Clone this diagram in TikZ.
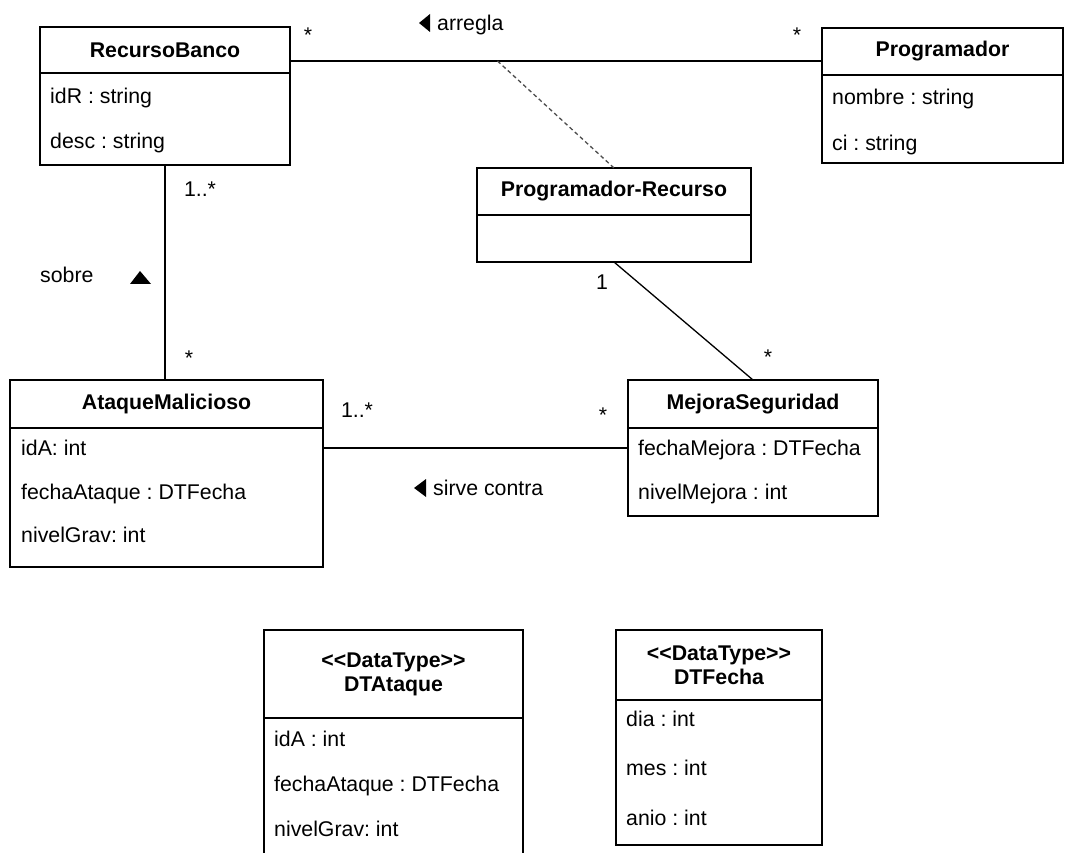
\documentclass[tikz,border=0pt]{standalone}
\usepackage{fontspec}
\setmainfont{Liberation Sans}
\usetikzlibrary{positioning}

\newcommand{\umlfont}{\fontsize{21.3pt}{24pt}\selectfont\frenchspacing}

\tikzset{
    classhead/.style={draw, line width=2.8pt, anchor=north west, inner sep=0pt, outer sep=0pt, font=\umlfont\bfseries, align=center},
    classbody/.style={draw, line width=2.8pt, inner sep=0pt, outer sep=0pt},
    attr/.style={anchor=west, inner sep=0pt, text height=15pt, text depth=4pt},
    mult/.style={anchor=base, inner sep=0pt},
    assoc/.style={line width=1.3pt},
    linkdash/.style={line width=1.3pt, dash pattern=on 4pt off 3pt, black!70},
}

\begin{document}
\begin{tikzpicture}[x=1pt, y=-1pt, font=\umlfont]

    \useasboundingbox (0,0) rectangle (1066,853);
    \clip (0,0) rectangle (1066,853);

    %% Classes

    % RecursoBanco
    \node[classhead, minimum width=250pt, minimum height=46pt] (rb) at (40,27) {RecursoBanco};
    \node[classbody, minimum width=250pt, minimum height=92pt, below=0pt of rb] (rbattr) {};
    \node[attr] (rbid) at (50,98) {idR : string};
    \node[attr] (rbdesc) at (50,143) {desc : string};

    % Programador
    \node[classhead, minimum width=241pt, minimum height=47pt] (prog) at (822,28) {Programador};
    \node[classbody, minimum width=241pt, minimum height=88pt, below=0pt of prog] (progattr) {};
    \node[attr] (prognombre) at (832,99) {nombre : string};
    \node[attr] (progci) at (832,145) {ci : string};

    % Programador-Recurso
    \node[classhead, minimum width=274pt, minimum height=47pt] (pr) at (477,168) {Programador-Recurso};
    \node[classbody, minimum width=274pt, minimum height=47pt, below=0pt of pr] (prattr) {};

    % MejoraSeguridad
    \node[classhead, minimum width=250pt, minimum height=48pt] (ms) at (628,380) {MejoraSeguridad};
    \node[classbody, minimum width=250pt, minimum height=88pt, below=0pt of ms] (msattr) {};
    \node[attr] (msfecha) at (638,450) {fechaMejora : DTFecha};
    \node[attr] (msnivel) at (638,494) {nivelMejora : int};

    % AtaqueMalicioso
    \node[classhead, minimum width=313pt, minimum height=48pt] (am) at (10,380) {AtaqueMalicioso};
    \node[classbody, minimum width=313pt, minimum height=139pt, below=0pt of am] (amattr) {};
    \node[attr] (amid) at (21,450) {idA: int};
    \node[attr] (amfecha) at (21,494) {fechaAtaque : DTFecha};
    \node[attr] (amnivel) at (21,537) {nivelGrav: int};

    % DTAtaque
    \node[classhead, minimum width=259pt, minimum height=88pt] (dta) at (264,630) {<\kern0pt<DataType>\kern0pt>\\DTAtaque};
    \node[classbody, minimum width=259pt, minimum height=190pt, below=0pt of dta] (dtaattr) {};
    \node[attr] (dtaid) at (274,741) {idA : int};
    \node[attr] (dtafecha) at (274,786) {fechaAtaque : DTFecha};
    \node[attr] (dtanivel) at (274,831) {nivelGrav: int};

    % DTFecha
    \node[classhead, minimum width=206pt, minimum height=70pt] (dtf) at (616,630) {<\kern0pt<DataType>\kern0pt>\\DTFecha};
    \node[classbody, minimum width=206pt, minimum height=145pt, below=0pt of dtf] (dtfattr) {};
    \node[attr] (dtfdia) at (626,721) {dia : int};
    \node[attr] (dtfmes) at (626,770) {mes : int};
    \node[attr] (dtfanio) at (626,820) {anio : int};

    %% Associations

    % arregla
    \draw[assoc] ([yshift=-34pt]rb.north east) -- coordinate[pos=0.39] (arreglamid) ([yshift=-33pt]prog.north west);
    \draw[linkdash] (arreglamid) -- (pr.north);
    \fill (419,23) -- (430,14) -- (430,32) -- cycle;
    \node[attr] (arregla) at (437,25) {arregla};
    \node[mult] (rbmult) at (308,43) {*};
    \node[mult] (progmult) at (797,43) {*};

    % Programador-Recurso to MejoraSeguridad
    \draw[assoc] (prattr.south) -- (ms.north);
    \node[mult] (prmult) at (602,289) {1};
    \node[mult] (msmult) at (768,364) {*};

    % sobre
    \draw[assoc] (rbattr.south) -- (rbattr.south |- am.north);
    \fill (130,284) -- (151,284) -- (140,271) -- cycle;
    \node[attr] (sobre) at (40,277) {sobre};
    \node[mult] (rbsobre) at (200,197) {1..*};
    \node[mult] (amsobre) at (189,365) {*};

    % sirve contra
    \draw[assoc] ([yshift=-20pt]amattr.north east) -- ([yshift=-20pt]msattr.north west);
    \fill (414,488) -- (426,479) -- (426,497) -- cycle;
    \node[attr] (sirve) at (433,490) {sirve contra};
    \node[mult] (amsirve) at (357,417) {1..*};
    \node[mult] (mssirve) at (603,422) {*};

\end{tikzpicture}
\end{document}
